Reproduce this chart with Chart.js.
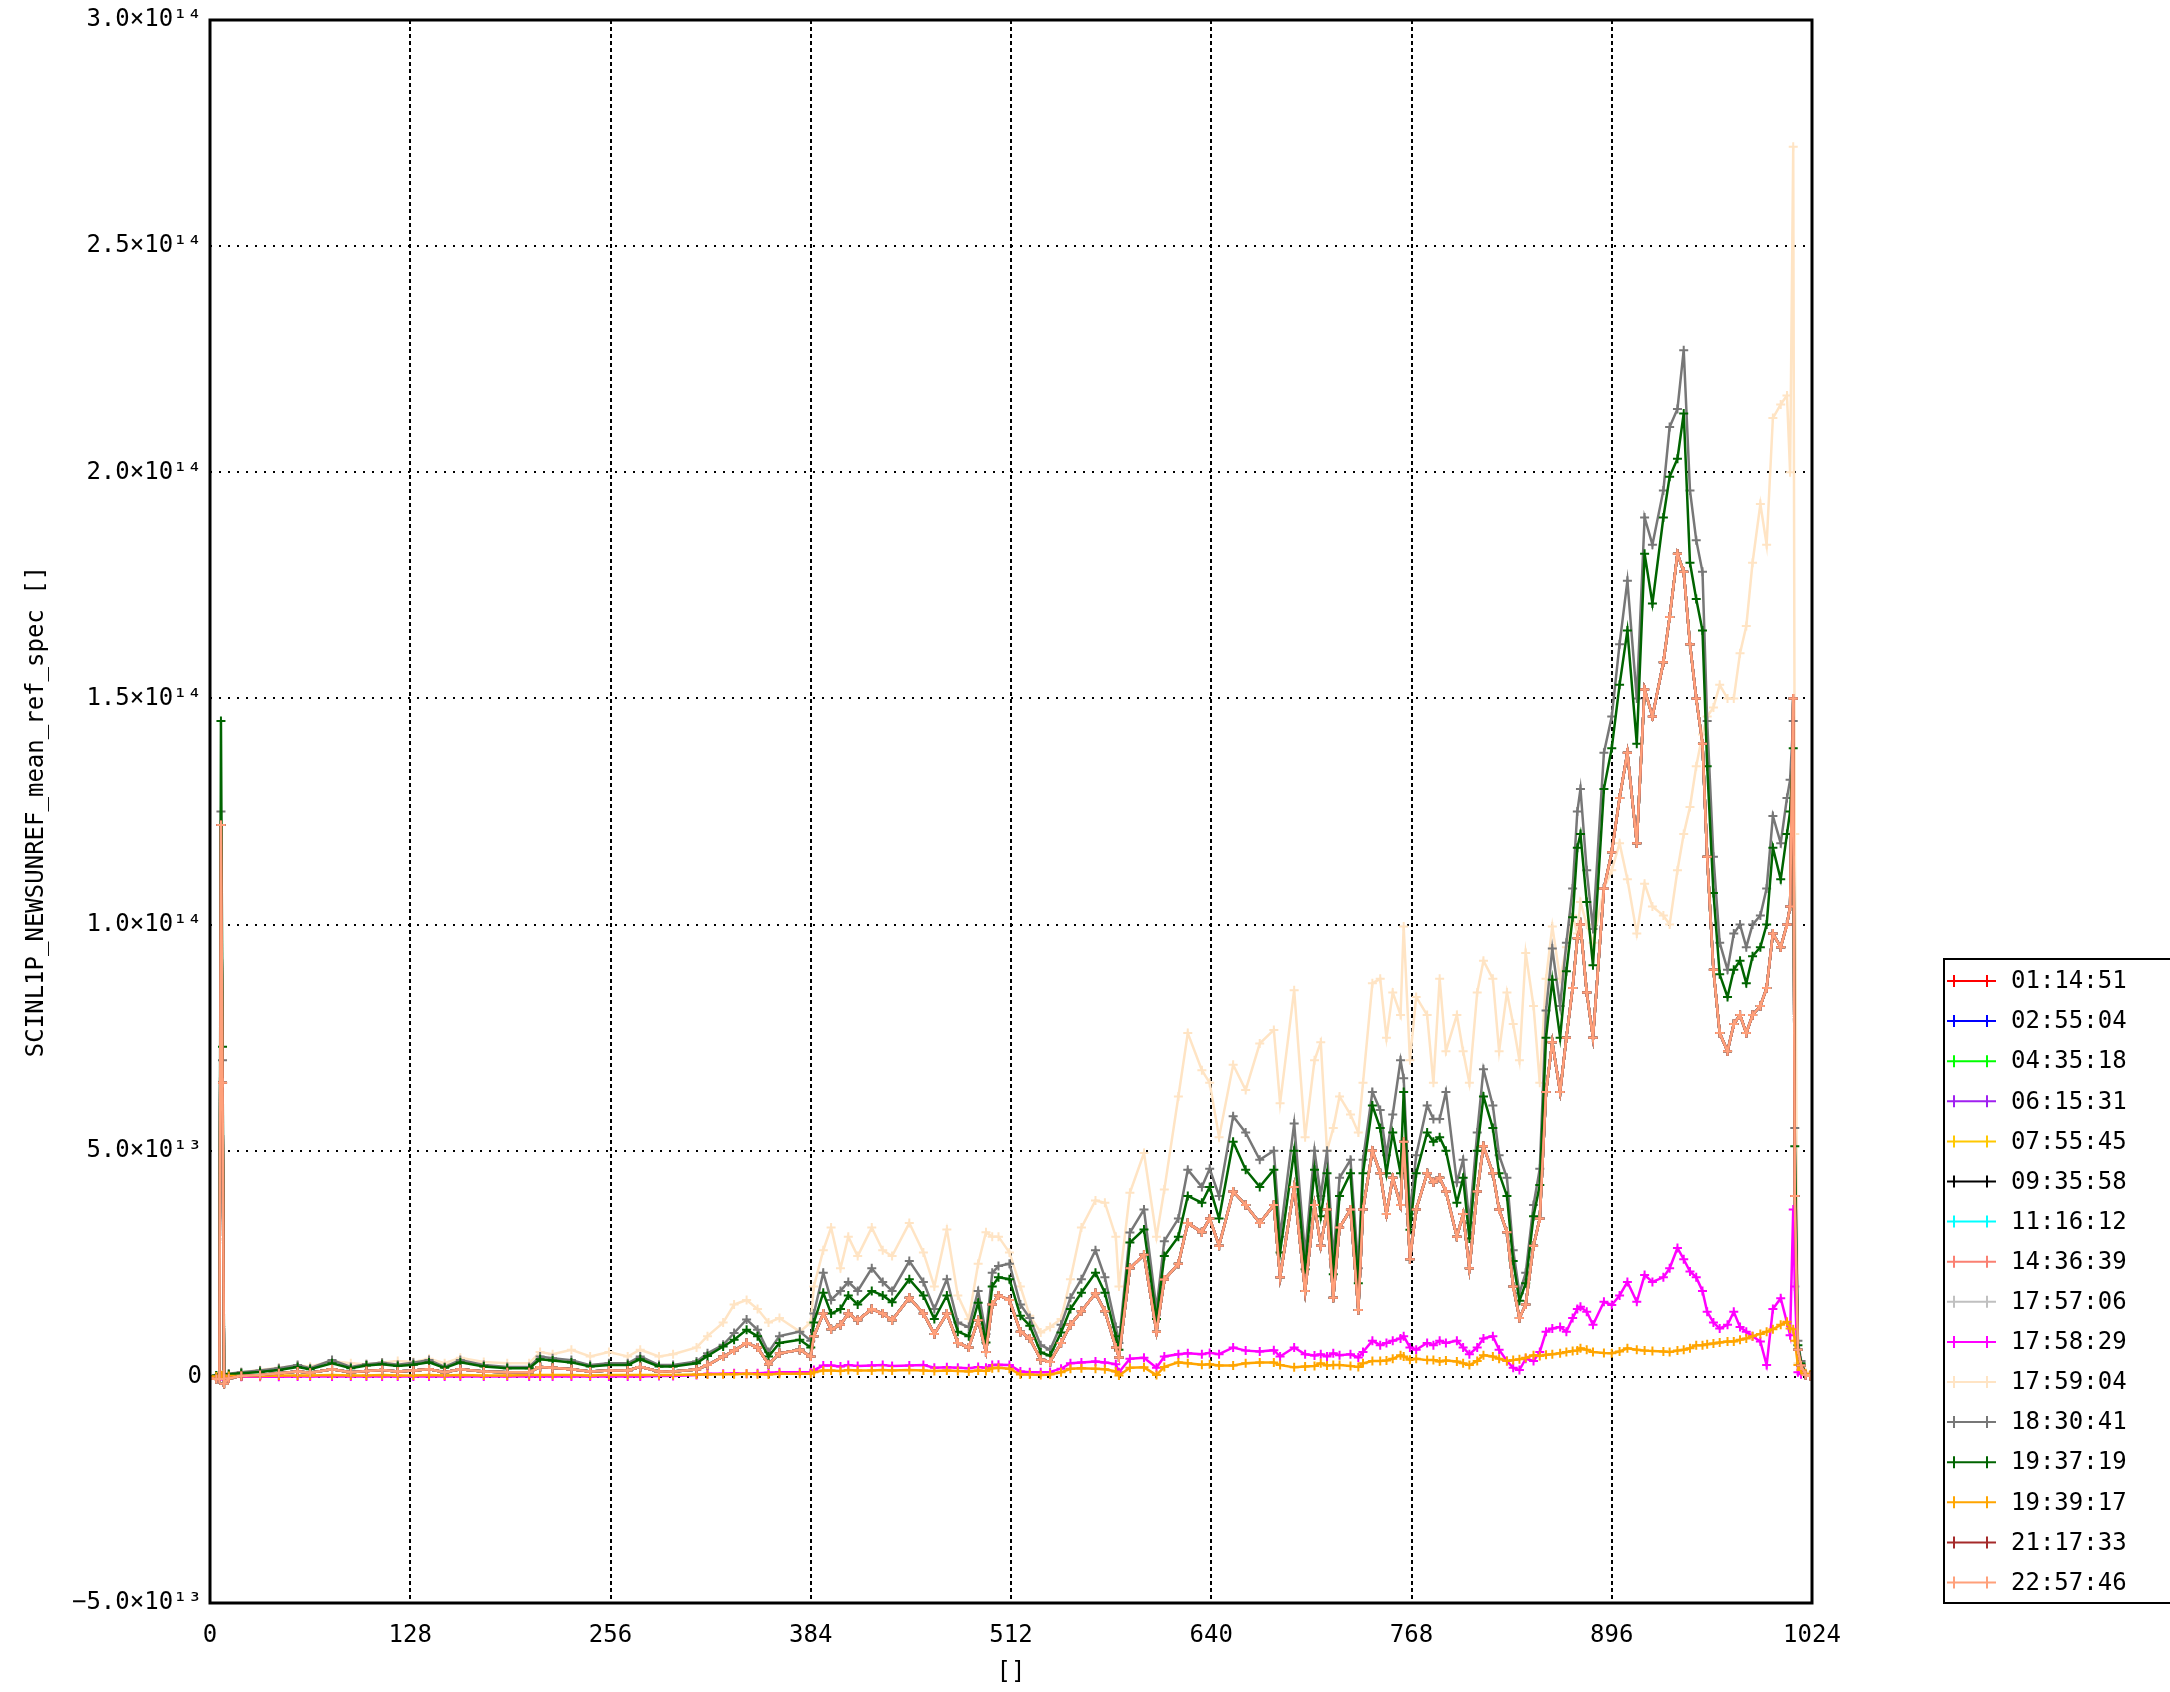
<!DOCTYPE html>
<html>
<head>
<meta charset="utf-8">
<script src="https://cdn.jsdelivr.net/npm/chart.js@4.4.1/dist/chart.umd.min.js"></script>
<style>
  html, body { margin: 0; padding: 0; background: #fff; }
  canvas { display: block; }
</style>
</head>
<body>
<canvas id="spec" width="2170" height="1692"></canvas>
<script>
// spectral channel (x) for every sample below
const channels = [
  0, 4, 6, 7, 8, 9, 12, 20, 32, 44,
  56, 64, 78, 90, 100, 110, 120, 130, 140, 150,
  160, 175, 190, 204, 211, 219, 231, 243, 255, 267,
  275, 287, 296, 311, 318, 328, 335, 343, 350, 357,
  364, 377, 384, 386, 392, 397, 403, 408, 414, 423,
  430, 436, 447, 456, 463, 471, 478, 485, 491, 496,
  500, 504, 511, 518, 524, 531, 537, 544, 550, 557,
  566, 572, 579, 581, 588, 597, 605, 610, 619, 625,
  634, 639, 645, 654, 662, 671, 680, 684, 693, 700,
  706, 710, 714, 718, 722, 729, 734, 737, 743, 748,
  752, 756, 761, 763, 767, 771, 778, 782, 786, 790,
  797, 801, 805, 810, 814, 820, 824, 829, 833, 837,
  841, 846, 850, 854, 858, 863, 867, 871, 874, 876,
  880, 884, 891, 896, 901, 906, 912, 917, 922, 929,
  933, 938, 942, 946, 950, 954, 957, 961, 965, 970,
  974, 978, 982, 986, 991, 995, 999, 1004, 1008, 1010,
  1012, 1013, 1015, 1017, 1020, 1023
];

// values in units of 1e12
const UNIT = 1e12;

// 19:37:19 (dark green)
const spec1937 = [
  0, 0.3, 0.5, 145, 73, 0.5, 0.6, 0.8, 1.1, 1.5,
  2.2, 1.7, 3.0, 1.9, 2.5, 2.8, 2.4, 2.7, 3.2, 2.0,
  3.2, 2.3, 1.9, 1.9, 3.9, 3.6, 3.2, 2.3, 2.6, 2.6,
  3.9, 2.3, 2.3, 3.0, 4.6, 6.7, 8.2, 10.4, 9.0, 4.5,
  7.5, 8.2, 6.5, 12, 18.6, 14, 15, 18, 16, 19,
  18, 16.5, 21.6, 18, 12.8, 18, 10, 9, 16.4, 7.6,
  20, 22, 21.6, 13.5, 11.3, 5.4, 4.7, 9.8, 15, 18.6,
  23, 18.6, 9, 6, 29.7, 32.6, 12.8, 26.7, 31, 40,
  38.5, 42, 35, 52, 45.8, 42, 45.8, 27.5, 50, 23.8,
  45.8, 35.5, 45, 22.7, 40, 45, 20.7, 45, 60, 55,
  45, 54, 45, 63, 32.5, 45, 54, 52, 53, 50,
  38.5, 44, 30.6, 50, 62, 55, 45, 40, 25.6, 16.8,
  20.7, 35.5, 42.4, 75, 87.8, 75, 89.7, 101.6, 117, 120,
  105, 91, 130, 139, 153, 165, 140, 182, 171, 190,
  199, 203, 213, 180, 172, 165, 135, 107, 89, 84,
  90, 92, 87, 93, 95, 100, 117, 110, 120, 125,
  139, 51, 7, 3, 0.5, 0.3
];

// 18:30:41 (grey)
const spec1830 = [
  0, 0.3, 0.5, 125, 70, 0.5, 0.7, 1.0, 1.4, 1.9,
  2.6, 1.9, 3.7, 2.2, 2.8, 3.1, 2.7, 3.1, 3.7, 2.2,
  3.7, 2.6, 2.2, 2.2, 4.5, 4.1, 3.7, 2.6, 3.0, 3.0,
  4.5, 2.6, 2.6, 3.4, 5.2, 7.1, 9.7, 12.7, 10.4, 5.5,
  9, 10, 8, 14, 23, 17, 19, 21, 19, 24,
  21, 19, 25.6, 21, 15, 21.6, 12, 11, 19, 9.5,
  23, 24.5, 25, 16, 13, 7, 6, 11.5, 17.5, 21.6,
  28, 22, 11, 7.5, 31.9, 37, 15, 30, 35, 45.8,
  42, 46, 40, 57.6, 54, 48, 50, 31, 56, 27,
  50, 40, 50, 26, 44, 48, 24, 48, 63, 59,
  49, 58, 70, 66, 36, 49, 60, 57, 57, 63,
  43, 48, 34, 54, 68, 60, 49, 44, 28, 18.5,
  23, 38, 46, 81, 94.7, 82, 96, 108, 125, 130,
  112, 99, 138, 146, 162, 176, 150, 190, 184, 196,
  210, 214, 227, 196, 185, 178, 145, 115, 96, 90,
  98, 100, 95, 100, 102, 108, 124, 118, 128, 132,
  145, 55, 8, 3.5, 0.6, 0.3
];

// salmon group: the lower bundle most of the daytime spectra sit on
const specSalmon = [
  -0.3, -0.5, -0.5, 122, 65, -1.5, -0.3, 0.2, 0.4, 0.8,
  1.2, 0.9, 1.7, 1.0, 1.3, 1.5, 1.2, 1.4, 1.7, 1.0,
  1.7, 1.2, 1.0, 1.0, 2.2, 2.0, 1.7, 1.2, 1.4, 1.4,
  2.2, 1.2, 1.2, 1.6, 2.6, 4.5, 5.8, 7.5, 6.5, 2.8,
  5.2, 6.0, 4.5, 9, 14, 10.5, 11.5, 14, 12.5, 15,
  14, 12.5, 17.5, 14, 9.5, 14, 7.5, 6.5, 12.5, 5.5,
  16, 18, 17, 10, 8.5, 3.8, 3.3, 7.5, 11.5, 14.5,
  18.5, 14.5, 6.5, 4.3, 24, 27, 10, 21.5, 25, 34,
  32, 35, 29, 41, 38, 34, 38, 22, 42, 19,
  38, 29, 37, 17.5, 33, 37, 14.8, 37, 50, 45,
  36, 44, 38, 52, 26, 37, 45, 43, 44, 41,
  31, 36, 24, 41, 51, 45, 37, 32, 20, 13,
  16, 29, 35, 63, 74, 63, 75, 86, 97, 100,
  85, 75, 108, 116, 128, 138, 118, 152, 146, 158,
  168, 182, 178, 162, 150, 140, 115, 90, 76, 72,
  78, 80, 76, 80, 82, 86, 98, 95, 100, 104,
  150, 40, 6, 2.5, 0.4, 0.2
];

// 17:59:04 (bisque)
const spec1759 = [
  0, 0, 0.2, 0.5, 0.5, 0.3, 0.5, 1.0, 1.5, 2.0,
  2.5, 2.3, 3.5, 3.0, 2.8, 3.2, 3.5, 3.3, 4.0, 3.0,
  4.2, 3.3, 3.0, 3.0, 5.5, 5.0, 6.0, 4.5, 5.5, 4.5,
  6.0, 4.5, 5.0, 6.5, 9.0, 12, 16, 17, 15, 12,
  13, 10, 12, 20, 28, 33, 24, 31, 26.7, 33,
  28, 26.7, 34, 27.5, 20, 32.6, 18, 12.8, 25, 32,
  31, 31, 27.5, 20, 13.5, 9.8, 11, 12.8, 21.6, 33,
  39, 38.5, 31, 20, 40.7, 49.5, 31, 41.4, 62, 76,
  67.8, 65, 53, 69, 63.4, 73.7, 76.7, 60.5, 85.5, 53,
  70, 74, 50, 55, 62, 58, 54, 65, 87, 88,
  75, 85, 80, 99.6, 70, 84, 80, 65, 88, 72,
  80, 72, 65, 85, 92, 88, 72, 85, 78, 70,
  93.7, 82, 65, 88, 99.6, 88, 95, 102, 98, 105,
  100, 96, 108, 112, 118, 110, 98, 109, 104, 102,
  100, 112, 120, 126, 135, 142, 146, 148, 153, 150,
  150, 160, 166, 180, 193, 184, 212, 215, 217, 200,
  272, 120, 3, 2, 1, 0.5
];

// 17:58:29 (magenta)
const spec1758 = [
  0, 0, 0, 0.2, 0.2, 0, 0, 0, 0, 0,
  0.1, 0.1, 0.1, 0.1, 0.1, 0.1, 0.1, 0.1, 0.1, 0.1,
  0.1, 0.1, 0.1, 0.1, 0.1, 0.1, 0.1, 0.1, 0.1, 0.1,
  0.1, 0.2, 0.2, 0.4, 0.7, 0.7, 0.8, 0.7, 0.8, 0.9,
  1.0, 1.0, 1.0, 1.5, 2.5, 2.5, 2.3, 2.6, 2.4, 2.5,
  2.6, 2.4, 2.5, 2.6, 2.0, 2.1, 2.0, 1.9, 2.2, 2.0,
  2.6, 2.7, 2.6, 1.2, 1.0, 1.0, 1.1, 1.8, 3.0, 3.2,
  3.4, 3.2, 2.8, 1.0, 4.0, 4.2, 2.0, 4.5, 5.0, 5.2,
  5.0, 5.3, 5.0, 6.5, 5.8, 5.6, 5.9, 4.5, 6.5, 5.0,
  4.7, 5.0, 4.5, 5.2, 4.8, 5.0, 4.3, 5.5, 8.0, 7.0,
  7.5, 8.0, 8.5, 9.0, 6.5, 6.0, 7.5, 7.0, 8.0, 7.5,
  8.0, 6.5, 5.0, 6.5, 8.5, 9.0, 6.0, 3.5, 2.0, 1.5,
  4.0, 3.5, 5.5, 10.0, 10.7, 11.0, 10.0, 13.0, 15.0, 15.5,
  14.4, 11.5, 16.6, 15.9, 18, 21, 16.6, 22.5, 21, 22,
  24, 28.5, 26, 23.3, 22, 19, 14.4, 12, 10.7, 11.5,
  14.4, 11, 10, 9, 7.8, 2.6, 15, 17.4, 12, 9.2,
  37, 20, 1, 0.6, 0.4, 0.3
];

// 19:39:17 (orange)
const spec1939 = [
  0, 0.1, 0.2, 0.3, 0.3, 0.2, 0.2, 0.2, 0.2, 0.3,
  0.3, 0.3, 0.4, 0.3, 0.3, 0.4, 0.3, 0.3, 0.4, 0.3,
  0.4, 0.3, 0.3, 0.4, 0.4, 0.4, 0.4, 0.3, 0.4, 0.4,
  0.4, 0.4, 0.4, 0.5, 0.5, 0.6, 0.6, 0.7, 0.6, 0.5,
  0.7, 0.7, 0.7, 1.0, 1.4, 1.4, 1.3, 1.5, 1.4, 1.4,
  1.5, 1.4, 1.5, 1.4, 1.3, 1.4, 1.3, 1.2, 1.4, 1.3,
  1.9, 2.0, 1.8, 0.5, 0.5, 0.4, 0.5, 1.0, 1.8, 1.9,
  1.8, 1.7, 1.2, 0.3, 2.0, 2.1, 0.4, 2.2, 3.2, 3.0,
  2.7, 2.8, 2.5, 2.5, 3.0, 3.2, 3.2, 2.6, 2.1, 2.3,
  2.4, 3.0, 2.5, 2.6, 2.6, 2.4, 2.2, 3.0, 3.5, 3.5,
  3.6, 4.0, 4.8, 4.5, 3.8, 4.0, 3.7, 3.7, 3.4, 3.6,
  3.4, 3.0, 2.6, 3.5, 4.8, 4.5, 4.0, 3.5, 3.7, 3.9,
  4.2, 4.8, 4.6, 4.9, 5.0, 5.2, 5.5, 5.7, 5.8, 6.3,
  6.0, 5.5, 5.3, 5.2, 5.6, 6.3, 6.0, 5.8, 5.7, 5.6,
  5.5, 5.8, 6.0, 6.3, 7.0, 7.0, 7.2, 7.4, 7.6, 7.8,
  7.8, 8.2, 8.5, 9.0, 9.5, 10.0, 10.5, 11.5, 12.2, 10.7,
  10.5, 8, 2.6, 1.5, 0.7, 0.5
];

const seriesLabels = [
  '01:14:51', '02:55:04', '04:35:18', '06:15:31', '07:55:45', '09:35:58',
  '11:16:12', '14:36:39', '17:57:06', '17:58:29', '17:59:04', '18:30:41',
  '19:37:19', '19:39:17', '21:17:33', '22:57:46'
];
const seriesColors = [
  '#ff0000', '#0000ff', '#00ff00', '#a020f0', '#ffc800', '#000000',
  '#00ffff', '#fa8072', '#c0c0c0', '#ff00ff', '#ffe4c4', '#777777',
  '#006400', '#ffa500', '#a52a2a', '#ffa07a'
];
const seriesValues = [
  specSalmon, specSalmon, specSalmon, specSalmon, specSalmon, specSalmon,
  specSalmon, specSalmon, specSalmon, spec1758, spec1759, spec1830,
  spec1937, spec1939, specSalmon, specSalmon
];

const xTickValues = [0, 128, 256, 384, 512, 640, 768, 896, 1024];
const yTickValues = [-5e13, 0, 5e13, 1e14, 1.5e14, 2e14, 2.5e14, 3e14];
const yTickLabels = ['−5.0×10¹³', '0', '5.0×10¹³', '1.0×10¹⁴', '1.5×10¹⁴', '2.0×10¹⁴', '2.5×10¹⁴', '3.0×10¹⁴'];

const FONT = 'DejaVu Sans Mono';

// frame round the plot plus the boxed legend at the lower right
const frameAndLegend = {
  id: 'frameAndLegend',
  afterDraw(chart) {
    const { ctx, chartArea: a } = chart;
    ctx.save();
    ctx.strokeStyle = '#000';
    ctx.lineWidth = 3;
    ctx.strokeRect(a.left, a.top, a.right - a.left, a.bottom - a.top);

    const boxLeft = a.right + 132;
    const boxTop = 959;
    ctx.lineWidth = 2;
    ctx.strokeRect(boxLeft, boxTop, chart.width - boxLeft + 10, a.bottom - boxTop);

    ctx.font = '24px "' + FONT + '"';
    ctx.textBaseline = 'middle';
    ctx.textAlign = 'left';
    chart.data.datasets.forEach((ds, i) => {
      const y = boxTop + 22 + i * 40.1;
      ctx.strokeStyle = ds.borderColor;
      ctx.lineWidth = 2;
      ctx.beginPath();
      ctx.moveTo(boxLeft + 3, y);
      ctx.lineTo(boxLeft + 52, y);
      [boxLeft + 10, boxLeft + 43].forEach(mx => {
        ctx.moveTo(mx, y - 6);
        ctx.lineTo(mx, y + 6);
      });
      ctx.stroke();
      ctx.fillStyle = '#000';
      ctx.fillText(ds.label, boxLeft + 67, y + 1);
    });
    ctx.restore();
  }
};

const datasets = seriesLabels.map((label, i) => ({
  label: label,
  data: channels.map((c, k) => ({ x: c, y: seriesValues[i][k] * UNIT })),
  borderColor: seriesColors[i],
  backgroundColor: seriesColors[i],
  borderWidth: 2.5,
  pointStyle: 'cross',
  pointRadius: 4.5,
  pointBorderWidth: 2,
  tension: 0,
  order: seriesLabels.length - i   // later spectra are drawn on top
}));

new Chart(document.getElementById('spec'), {
  type: 'line',
  data: { datasets: datasets },
  options: {
    responsive: false,
    animation: false,
    devicePixelRatio: 1,
    layout: { padding: { top: 14, right: 358, left: 0, bottom: 0 } },
    plugins: {
      legend: { display: false },
      tooltip: { enabled: false }
    },
    scales: {
      x: {
        type: 'linear',
        min: 0,
        max: 1024,
        afterBuildTicks: s => { s.ticks = xTickValues.map(v => ({ value: v })); },
        afterFit: s => { s.height = 89; },
        ticks: {
          color: '#000',
          font: { family: FONT, size: 24, lineHeight: 1 },
          padding: 21,
          maxRotation: 0,
          callback: v => String(v)
        },
        grid: { color: '#000', lineWidth: 2, drawTicks: false },
        border: { display: false, dash: [4, 3] },
        title: {
          display: true,
          text: '[]',
          color: '#000',
          font: { family: FONT, size: 24, lineHeight: 1 },
          padding: { top: 0, bottom: 7 }
        }
      },
      y: {
        type: 'linear',
        min: -5e13,
        max: 3e14,
        afterBuildTicks: s => { s.ticks = yTickValues.map(v => ({ value: v })); },
        afterFit: s => { s.width = 210; },
        ticks: {
          color: '#000',
          font: { family: FONT, size: 24, lineHeight: 1 },
          padding: 8,
          callback: v => {
            const k = yTickValues.indexOf(v);
            return k >= 0 ? yTickLabels[k] : '';
          }
        },
        grid: { color: '#000', lineWidth: 2, drawTicks: false },
        border: { display: false, dash: [2, 7] },
        title: {
          display: true,
          text: 'SCINL1P_NEWSUNREF_mean_ref_spec []',
          color: '#000',
          font: { family: FONT, size: 24, lineHeight: 1 },
          padding: { top: 25, bottom: 0 }
        }
      }
    }
  },
  plugins: [frameAndLegend]
});
</script>
</body>
</html>
